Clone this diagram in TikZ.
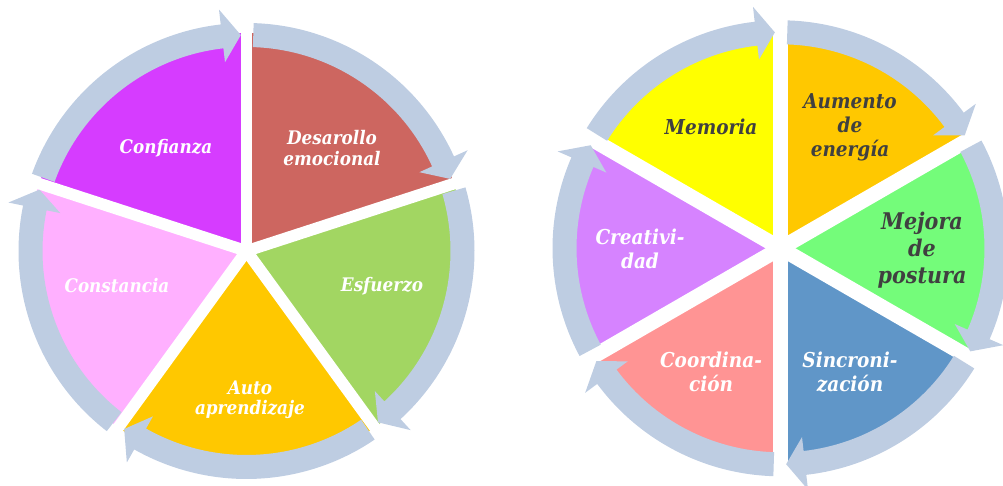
\documentclass[tikz,border=0pt]{standalone}
\usepackage{fontspec}
\setmainfont{DejaVu Serif Condensed}
\definecolor{bandc}{RGB}{190,205,226}
\definecolor{cConf}{RGB}{214,60,255}
\definecolor{cDes}{RGB}{205,102,96}
\definecolor{cEsf}{RGB}{162,214,98}
\definecolor{cAuto}{RGB}{255,200,0}
\definecolor{cCons}{RGB}{255,176,255}
\definecolor{cMem}{RGB}{255,255,0}
\definecolor{cAum}{RGB}{255,200,0}
\definecolor{cMej}{RGB}{116,252,122}
\definecolor{cSin}{RGB}{96,150,200}
\definecolor{cCoo}{RGB}{255,148,148}
\definecolor{cCre}{RGB}{214,131,255}
\definecolor{darktxt}{RGB}{64,64,64}
\newcommand\ringarrow[2]{%
  \pgfmathsetmacro\arA{#1}\pgfmathsetmacro\arT{#2}\pgfmathsetmacro\arB{#2+5}%
  \fill[bandc] (\arA:228) arc[start angle=\arA, end angle=\arB, radius=228]
    -- (\arB:243) -- (\arT:216) -- (\arB:190) -- (\arB:204)
    arc[start angle=\arB, end angle=\arA, radius=204] -- cycle;}
\newcommand\pieslice[4]{%
  \fill[#1] (0,0) -- (#2:#4) arc[start angle=#2, end angle=#3, radius=#4] -- cycle;}
\begin{document}
\begin{tikzpicture}[x=1pt,y=1pt,
  lbl/.style={font=\bfseries\itshape\fontsize{18.7}{20.5}\selectfont, align=center, text=white, inner sep=0pt},
  rlbl/.style={font=\bfseries\itshape\fontsize{20.5}{24}\selectfont, align=center, text=white, inner sep=0pt},
  dlbl/.style={rlbl, text=darktxt},
  biglbl/.style={font=\bfseries\itshape\fontsize{23}{27}\selectfont, align=center, text=darktxt, inner sep=0pt}]
\useasboundingbox (0,0) rectangle (1003,486);
% left wheel
\begin{scope}[shift={(246.5,235)}]
  \pieslice{cDes}{90}{18}{218}
  \pieslice{cEsf}{18}{-54}{218}
  \pieslice{cAuto}{-54}{-126}{218}
  \pieslice{cCons}{-126}{-198}{218}
  \pieslice{cConf}{162}{90}{218}
  \foreach \g in {90,18,-54,-126,162} \draw[white, line width=11.6] (0,0) -- (\g:226);
  \ringarrow{88.2}{19.5}
  \ringarrow{16.2}{-52.5}
  \ringarrow{-55.8}{-124.5}
  \ringarrow{-127.8}{-196.5}
  \ringarrow{160.2}{91.5}
\end{scope}
% right wheel
\begin{scope}[shift={(780.5,237.7)}]
  \pieslice{cAum}{90}{30}{214}
  \pieslice{cMej}{30}{-30}{214}
  \pieslice{cSin}{-30}{-90}{214}
  \pieslice{cCoo}{-90}{-150}{214}
  \pieslice{cCre}{-150}{-210}{214}
  \pieslice{cMem}{150}{90}{214}
  \foreach \g in {90,30,-30,-90,-150,150} \draw[white, line width=15] (0,0) -- (\g:222);
  \ringarrow{88.2}{31.5}
  \ringarrow{28.2}{-28.5}
  \ringarrow{-31.8}{-88.5}
  \ringarrow{-91.8}{-148.5}
  \ringarrow{-151.8}{-208.5}
  \ringarrow{148.2}{91.5}
\end{scope}
% labels left
\node[lbl] (conf) at (166,338) {Confianza};
\node[lbl] (des) at (332,338) {Desarollo\\emocional};
\node[lbl] (esf) at (382,200) {Esfuerzo};
\node[lbl] (cons) at (117,200) {Constancia};
\node[lbl] (auto) at (250,86) {Auto\\aprendizaje};
% labels right
\node[dlbl] (mem) at (711,359) {Memoria};
\node[dlbl] (aum) at (850,359) {Aumento\\de\\energía};
\node[biglbl] (mej) at (922,236) {Mejora\\de\\postura};
\node[rlbl] (cre) at (640,237) {Creativi-\\dad};
\node[rlbl] (coo) at (711,114) {Coordina-\\ción};
\node[rlbl] (sin) at (850,114) {Sincroni-\\zación};
\end{tikzpicture}
\end{document}
